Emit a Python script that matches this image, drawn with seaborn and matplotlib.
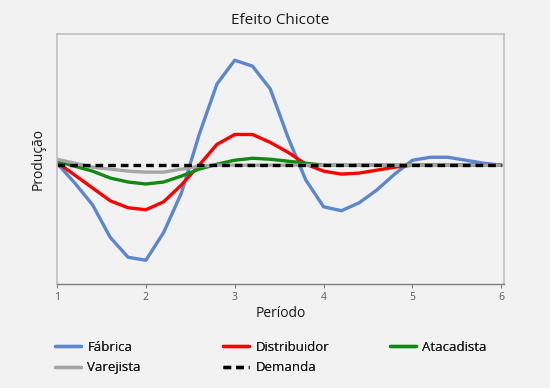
import numpy as np
import pandas as pd
import seaborn as sns
import matplotlib.pyplot as plt
from matplotlib.lines import Line2D

sns.set_theme(style="white")
plt.rcParams['font.family'] = ['Open Sans', 'DejaVu Sans']

periodo = [1.0, 1.2, 1.4, 1.6, 1.8, 2.0, 2.2, 2.4, 2.6, 2.8, 3.0, 3.2, 3.4,
           3.6, 3.8, 4.0, 4.2, 4.4, 4.6, 4.8, 5.0, 5.2, 5.4, 5.6, 5.8, 6.0]

fabrica = [12.2, 10.2, 8.0, 4.7, 2.7, 2.4, 5.2, 9.2, 15.1, 20.2, 22.6, 22.0, 19.7,
           14.8, 10.5, 7.8, 7.4, 8.2, 9.5, 11.1, 12.5, 12.8, 12.8, 12.5, 12.2, 12.0]
distribuidor = [12.3, 11.0, 9.7, 8.4, 7.7, 7.5, 8.3, 10.0, 12.0, 14.1, 15.1, 15.1, 14.3,
                13.3, 12.1, 11.4, 11.1, 11.2, 11.5, 11.8, 12.0, 12.0, 12.0, 12.0, 12.0, 12.0]
atacadista = [12.4, 11.9, 11.4, 10.7, 10.3, 10.1, 10.3, 10.9, 11.6, 12.1, 12.5, 12.7, 12.6,
              12.4, 12.2, 12.0, 12.0, 12.0, 12.0, 12.0, 12.0, 12.0, 12.0, 12.0, 12.0, 12.0]
varejista = [12.6, 12.2, 11.8, 11.6, 11.4, 11.3, 11.3, 11.6, 11.9, 12.0, 12.0, 12.0, 12.0,
             12.0, 12.0, 12.0, 12.0, 12.0, 12.0, 12.0, 12.0, 12.0, 12.0, 12.0, 12.0, 12.0]
demanda = [12.0] * len(periodo)

series = ['Fábrica', 'Distribuidor', 'Atacadista', 'Varejista', 'Demanda']
cores = {'Fábrica': '#5b87d0', 'Distribuidor': '#ff0000', 'Atacadista': '#108a10',
         'Varejista': '#a6a6a6', 'Demanda': '#000000'}
tracos = {'Fábrica': '', 'Distribuidor': '', 'Atacadista': '', 'Varejista': '',
          'Demanda': (2.3, 1.5)}

df = pd.DataFrame({'Período': periodo, 'Fábrica': fabrica, 'Distribuidor': distribuidor,
                   'Atacadista': atacadista, 'Varejista': varejista, 'Demanda': demanda})
df = df.melt(id_vars='Período', var_name='Série', value_name='Produção')

bg = '#f2f2f2'
fig = plt.figure(figsize=(5.5, 3.88), dpi=100, facecolor=bg)
ax = fig.add_axes([57/550, 1-284/388, (504-57)/550, (284-34)/388])
ax.set_facecolor(bg)

sns.lineplot(data=df, x='Período', y='Produção', hue='Série', style='Série',
             hue_order=series, style_order=series, palette=cores, dashes=tracos,
             linewidth=2.4, legend=False, ax=ax)

ax.set_xlim(1, 6.03)
ax.set_ylim(0, 25.25)
ax.set_xticks([1, 2, 3, 4, 5, 6])
ax.set_yticks([])
ax.tick_params(axis='x', bottom=True, length=3, width=0.8, color='#808080',
               labelsize=7.5, labelcolor='#595959', pad=3)
for s in ['left', 'top', 'right']:
    ax.spines[s].set_color('#bfbfbf')
    ax.spines[s].set_linewidth(1.2)
ax.spines['bottom'].set_color('#808080')
ax.spines['bottom'].set_linewidth(1.0)

ax.set_xlabel('Período', fontsize=10, color='#1a1a1a', labelpad=2)
ax.set_ylabel('Produção', fontsize=10, color='#1a1a1a', labelpad=8)
fig.text(280/550, 1-20/388, 'Efeito Chicote', ha='center', va='center',
         fontsize=11, color='#1a1a1a')

def handle(nome):
    if nome == 'Demanda':
        return Line2D([], [], color=cores[nome], lw=2.4, dashes=(2.3, 1.5))
    return Line2D([], [], color=cores[nome], lw=2.4)

colunas = [(['Fábrica', 'Varejista'], 55), (['Distribuidor', 'Demanda'], 223),
           (['Atacadista'], 390)]
for nomes, px in colunas:
    leg = fig.legend([handle(n) for n in nomes], nomes, loc='upper left',
                     bbox_to_anchor=(px/550, 1-341/388), frameon=False,
                     fontsize=9.5, handlelength=2.0, handletextpad=0.45,
                     labelspacing=0.55, borderaxespad=0, borderpad=0)
    for t in leg.get_texts():
        t.set_color('#1a1a1a')
    fig.add_artist(leg)

fig.savefig('out.png', dpi=100, facecolor=bg)
